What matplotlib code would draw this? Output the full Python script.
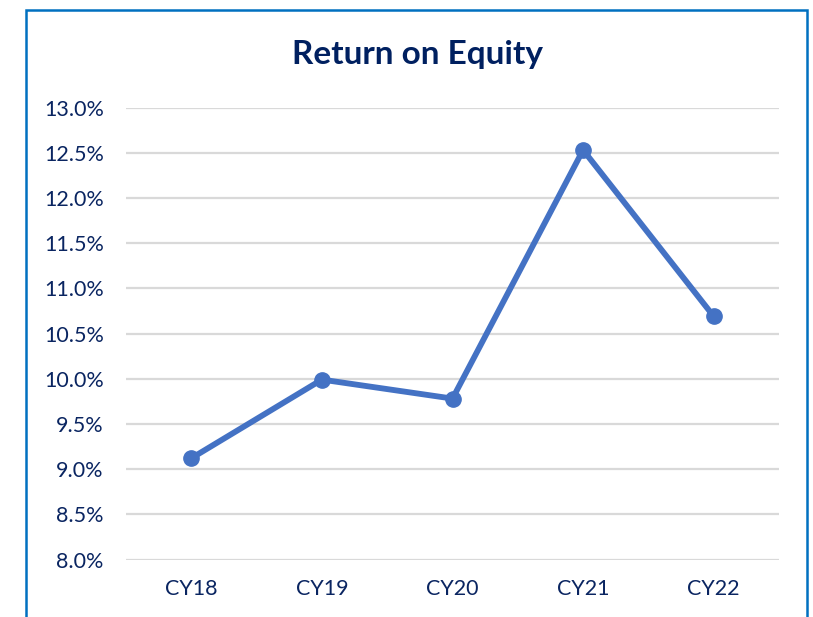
import matplotlib
matplotlib.use('Agg')
import matplotlib.pyplot as plt
from matplotlib.patches import Rectangle
from matplotlib.ticker import FuncFormatter

years = ['CY18', 'CY19', 'CY20', 'CY21', 'CY22']
roe = [9.12, 9.99, 9.78, 12.53, 10.69]
yticks = [8.0, 8.5, 9.0, 9.5, 10.0, 10.5, 11.0, 11.5, 12.0, 12.5, 13.0]

navy = '#0A2561'
plt.rcParams['font.family'] = ['Lato', 'DejaVu Sans']

fig = plt.figure(figsize=(8.13, 6.17), dpi=100)
ax = fig.add_axes([126 / 813, 1 - 559.5 / 617, 653 / 813, 452 / 617])

x = range(len(years))
ax.plot(x, roe, color='#4472C4', linewidth=4.2, marker='o', markersize=11,
        solid_capstyle='round', solid_joinstyle='round', zorder=3)

ax.set_xlim(-0.5, len(years) - 0.5)
ax.set_ylim(8.0, 13.0)
ax.set_yticks(yticks)
ax.yaxis.set_major_formatter(FuncFormatter(lambda v, p: f'{v:.1f}%'))
ax.set_xticks(list(x))
ax.set_xticklabels(years)
ax.tick_params(axis='both', length=0, labelsize=15.5, labelcolor=navy)
ax.tick_params(axis='y', pad=16)
ax.tick_params(axis='x', pad=14)
ax.grid(axis='y', color='#D9D9D9', linewidth=1.6)
ax.set_axisbelow(True)
for s in ax.spines.values():
    s.set_visible(False)

fig.text(417 / 813, 1 - 64 / 617, 'Return on Equity', ha='center', va='baseline',
         fontsize=24, fontweight='bold', color='#002060')

# chart border (bottom edge runs off the image)
fig.patches.append(Rectangle((26 / 813, -0.1), 781 / 813, 1.1 - 9.5 / 617,
                             transform=fig.transFigure, fill=False,
                             edgecolor='#0070C0', linewidth=1.8, clip_on=False))

plt.savefig('out.png', dpi=100)
